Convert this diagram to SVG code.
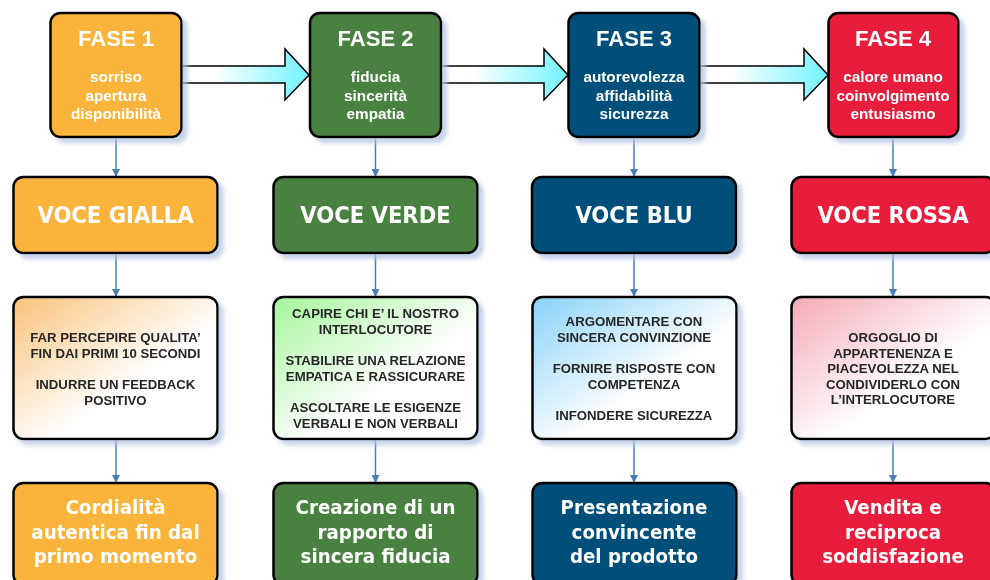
<svg xmlns="http://www.w3.org/2000/svg" width="990" height="580" viewBox="0 0 990 580">
<defs>
<style>
.box{stroke:#000;stroke-width:2.5}
.fase{font-family:"Liberation Sans",Arial,sans-serif;font-weight:bold;font-size:22px;fill:#fff;text-anchor:middle}
.sub{font-family:"Liberation Sans",Arial,sans-serif;font-weight:bold;font-size:15.3px;fill:#fff;text-anchor:middle}
.voce{font-family:"DejaVu Sans Condensed","DejaVu Sans",sans-serif;font-stretch:condensed;font-weight:bold;font-size:23.5px;fill:#fff;text-anchor:middle}
.det{font-family:"Liberation Sans",Arial,sans-serif;font-weight:bold;font-size:13.2px;fill:#262626;text-anchor:middle}
.res{font-family:"DejaVu Sans Condensed","DejaVu Sans",sans-serif;font-stretch:condensed;font-weight:bold;font-size:20.3px;fill:#fff;text-anchor:middle}
.conn line{stroke:#4a7ebb;stroke-width:1.5;marker-end:url(#ah)}
.big{stroke:#000;stroke-width:1.5;fill:url(#ag)}
</style>
<filter id="sh" x="-10%" y="-10%" width="130%" height="130%">
<feOffset in="SourceAlpha" dx="5" dy="5" result="o"/>
<feGaussianBlur in="o" stdDeviation="2" result="b"/>
<feFlood flood-color="#b4c4e2" flood-opacity="0.75"/>
<feComposite in2="b" operator="in" result="s"/>
<feMerge><feMergeNode in="s"/><feMergeNode in="SourceGraphic"/></feMerge>
</filter>
<marker id="ah" markerUnits="userSpaceOnUse" markerWidth="8" markerHeight="8" refX="8" refY="4" orient="auto">
<path d="M0,0 L8,4 L0,8 z" fill="#4a7ebb"/>
</marker>
<linearGradient id="ag" x1="0" y1="0" x2="1" y2="0">
<stop offset="0.25" stop-color="#ffffff"/>
<stop offset="1" stop-color="#70f4ff"/>
</linearGradient>
<linearGradient id="gy" x1="0" y1="0" x2="1" y2="1">
<stop offset="0" stop-color="#f9c27a"/>
<stop offset="0.6" stop-color="#ffffff"/>
</linearGradient>
<linearGradient id="gg" x1="0" y1="0" x2="1" y2="1">
<stop offset="0" stop-color="#a4f59a"/>
<stop offset="0.6" stop-color="#ffffff"/>
</linearGradient>
<linearGradient id="gb" x1="0" y1="0" x2="1" y2="1">
<stop offset="0" stop-color="#88d2f8"/>
<stop offset="0.6" stop-color="#ffffff"/>
</linearGradient>
<linearGradient id="gr" x1="0" y1="0" x2="1" y2="1">
<stop offset="0" stop-color="#f4aab8"/>
<stop offset="0.6" stop-color="#ffffff"/>
</linearGradient>
</defs>
<rect width="990" height="580" fill="#fff"/>

<g id="arrows-big">
<polygon class="big" points="182,66 285,66 285,49 309,75 285,100 285,83 182,83"/>
<polygon class="big" points="441,66 544,66 544,49 568,75 544,100 544,83 441,83"/>
<polygon class="big" points="699,66 804,66 804,49 828,75 804,100 804,83 699,83"/>
</g>

<g class="conn" id="connectors">
<line x1="116" y1="138" x2="116" y2="177"/>
<line x1="375.5" y1="138" x2="375.5" y2="177"/>
<line x1="634" y1="138" x2="634" y2="177"/>
<line x1="893" y1="138" x2="893" y2="177"/>
<line x1="116" y1="254" x2="116" y2="297"/>
<line x1="375.5" y1="254" x2="375.5" y2="297"/>
<line x1="634" y1="254" x2="634" y2="297"/>
<line x1="893" y1="254" x2="893" y2="297"/>
<line x1="116" y1="440" x2="116" y2="483"/>
<line x1="375.5" y1="440" x2="375.5" y2="483"/>
<line x1="634" y1="440" x2="634" y2="483"/>
<line x1="893" y1="440" x2="893" y2="483"/>
</g>

<g id="fase1" filter="url(#sh)">
<rect class="box" x="50.5" y="13" width="131" height="124" rx="10" fill="#fbb43b"/>
<text class="fase" x="116" y="46">FASE 1</text>
<text class="sub" x="116" y="82">sorriso</text>
<text class="sub" x="116" y="101">apertura</text>
<text class="sub" x="116" y="119">disponibilità</text>
</g>
<g id="fase2" filter="url(#sh)">
<rect class="box" x="310" y="13" width="131" height="124" rx="10" fill="#4a8240"/>
<text class="fase" x="375.5" y="46">FASE 2</text>
<text class="sub" x="375.5" y="82">fiducia</text>
<text class="sub" x="375.5" y="101">sincerità</text>
<text class="sub" x="375.5" y="119">empatia</text>
</g>
<g id="fase3" filter="url(#sh)">
<rect class="box" x="568.5" y="13" width="131" height="124" rx="10" fill="#00507a"/>
<text class="fase" x="634" y="46">FASE 3</text>
<text class="sub" x="634" y="82">autorevolezza</text>
<text class="sub" x="634" y="101">affidabilità</text>
<text class="sub" x="634" y="119">sicurezza</text>
</g>
<g id="fase4" filter="url(#sh)">
<rect class="box" x="828.5" y="13" width="130" height="124" rx="10" fill="#e81a3b"/>
<text class="fase" x="893" y="46">FASE 4</text>
<text class="sub" x="893" y="82">calore umano</text>
<text class="sub" x="893" y="101">coinvolgimento</text>
<text class="sub" x="893" y="119">entusiasmo</text>
</g>

<g id="voce-gialla" filter="url(#sh)">
<rect class="box" x="13.5" y="177" width="204" height="76" rx="10" fill="#fbb43b"/>
<text class="voce" x="115.5" y="223">VOCE GIALLA</text>
</g>
<g id="voce-verde" filter="url(#sh)">
<rect class="box" x="273.5" y="177" width="204" height="76" rx="10" fill="#4a8240"/>
<text class="voce" x="375.5" y="223">VOCE VERDE</text>
</g>
<g id="voce-blu" filter="url(#sh)">
<rect class="box" x="532" y="177" width="204" height="76" rx="10" fill="#00507a"/>
<text class="voce" x="634" y="223">VOCE BLU</text>
</g>
<g id="voce-rossa" filter="url(#sh)">
<rect class="box" x="791.5" y="177" width="204" height="76" rx="10" fill="#e81a3b"/>
<text class="voce" x="893" y="223">VOCE ROSSA</text>
</g>

<g id="det-gialla" filter="url(#sh)">
<rect class="box" x="13.5" y="297" width="204" height="142" rx="10" fill="url(#gy)"/>
<text class="det" x="115.5" y="342">FAR PERCEPIRE QUALITA’</text>
<text class="det" x="115.5" y="358">FIN DAI PRIMI 10 SECONDI</text>
<text class="det" x="115.5" y="389">INDURRE UN FEEDBACK</text>
<text class="det" x="115.5" y="405">POSITIVO</text>
</g>
<g id="det-verde" filter="url(#sh)">
<rect class="box" x="273.5" y="297" width="204" height="142" rx="10" fill="url(#gg)"/>
<text class="det" x="375.5" y="318">CAPIRE CHI E’ IL NOSTRO</text>
<text class="det" x="375.5" y="334">INTERLOCUTORE</text>
<text class="det" x="375.5" y="365">STABILIRE UNA RELAZIONE</text>
<text class="det" x="375.5" y="381">EMPATICA E RASSICURARE</text>
<text class="det" x="375.5" y="412">ASCOLTARE LE ESIGENZE</text>
<text class="det" x="375.5" y="428">VERBALI E NON VERBALI</text>
</g>
<g id="det-blu" filter="url(#sh)">
<rect class="box" x="532.5" y="297" width="204" height="142" rx="10" fill="url(#gb)"/>
<text class="det" x="634" y="326">ARGOMENTARE CON</text>
<text class="det" x="634" y="342">SINCERA CONVINZIONE</text>
<text class="det" x="634" y="373">FORNIRE RISPOSTE CON</text>
<text class="det" x="634" y="389">COMPETENZA</text>
<text class="det" x="634" y="420">INFONDERE SICUREZZA</text>
</g>
<g id="det-rossa" filter="url(#sh)">
<rect class="box" x="791.5" y="297" width="204" height="142" rx="10" fill="url(#gr)"/>
<text class="det" x="893" y="342">ORGOGLIO DI</text>
<text class="det" x="893" y="358">APPARTENENZA E</text>
<text class="det" x="893" y="373">PIACEVOLEZZA NEL</text>
<text class="det" x="893" y="389">CONDIVIDERLO CON</text>
<text class="det" x="893" y="404">L’INTERLOCUTORE</text>
</g>

<g id="res-gialla" filter="url(#sh)">
<rect class="box" x="13.5" y="483" width="204" height="102" rx="10" fill="#fbb43b"/>
<text class="res" x="115.5" y="514">Cordialità</text>
<text class="res" x="115.5" y="539">autentica fin dal</text>
<text class="res" x="115.5" y="563">primo momento</text>
</g>
<g id="res-verde" filter="url(#sh)">
<rect class="box" x="273.5" y="483" width="204" height="102" rx="10" fill="#4a8240"/>
<text class="res" x="375.5" y="514">Creazione di un</text>
<text class="res" x="375.5" y="539">rapporto di</text>
<text class="res" x="375.5" y="563">sincera fiducia</text>
</g>
<g id="res-blu" filter="url(#sh)">
<rect class="box" x="532.5" y="483" width="204" height="102" rx="10" fill="#00507a"/>
<text class="res" x="634" y="514">Presentazione</text>
<text class="res" x="634" y="539">convincente</text>
<text class="res" x="634" y="563">del prodotto</text>
</g>
<g id="res-rossa" filter="url(#sh)">
<rect class="box" x="791.5" y="483" width="204" height="102" rx="10" fill="#e81a3b"/>
<text class="res" x="893" y="514">Vendita e</text>
<text class="res" x="893" y="539">reciproca</text>
<text class="res" x="893" y="563">soddisfazione</text>
</g>
</svg>
